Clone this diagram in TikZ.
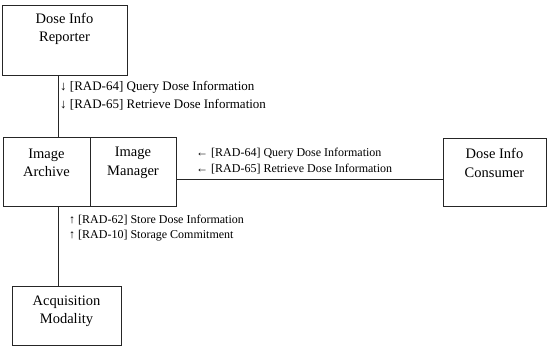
\documentclass[tikz,border=0pt]{standalone}
\usepackage{fontspec}
\setmainfont{Liberation Serif}
\begin{document}
\begin{tikzpicture}[x=1pt,y=-1pt,
  box/.style={draw=black!85,line width=1pt},
  boxtext/.style={align=center,font=\fontsize{14.5}{18.5}\selectfont,inner sep=0pt},
  lbl/.style={anchor=west,align=left,font=\fontsize{12}{15.5}\selectfont,inner sep=0pt},
  biglbl/.style={anchor=west,align=left,font=\fontsize{13}{17.5}\selectfont,inner sep=0pt},
  conn/.style={draw=black!85,line width=1pt}]
\useasboundingbox (0,0) rectangle (548,357);
% boxes
\draw[box] (2,5) rectangle (127,75);
\coordinate (repS) at (58,75);
\node[boxtext] (rept) at (64.5,29) {Dose Info\\Reporter};
\draw[box] (3,137) rectangle (176,206);
\draw[box] (90,137) -- (90,206);
\coordinate (archN) at (58,137);
\coordinate (archS) at (58,206);
\coordinate (mgrE) at (176,179);
\node[boxtext] (archt) at (46.5,163) {Image\\Archive};
\node[boxtext] (mgrt) at (133,163) {Image\\Manager};
\draw[box] (443,138) rectangle (546,206);
\coordinate (consW) at (443,179);
\node[boxtext] (const) at (494.5,163) {Dose Info\\Consumer};
\draw[box] (12,286) rectangle (121,345);
\coordinate (acqN) at (58,286);
\node[boxtext] (acqt) at (66.5,311.5) {Acquisition\\Modality};
% connectors
\draw[conn] (repS) -- (archN);
\draw[conn] (archS) -- (acqN);
\draw[conn] (mgrE) -- (consW);
% labels
\node[biglbl] (l1) at (60,96) {↓ [RAD-64] Query Dose Information\\↓ [RAD-65] Retrieve Dose Information};
\node[lbl] (l2) at (196,161) {← [RAD-64] Query Dose Information\\← [RAD-65] Retrieve Dose Information};
\node[lbl] (l3) at (69,228) {↑ [RAD-62] Store Dose Information\\↑ [RAD-10] Storage Commitment};
\end{tikzpicture}
\end{document}
